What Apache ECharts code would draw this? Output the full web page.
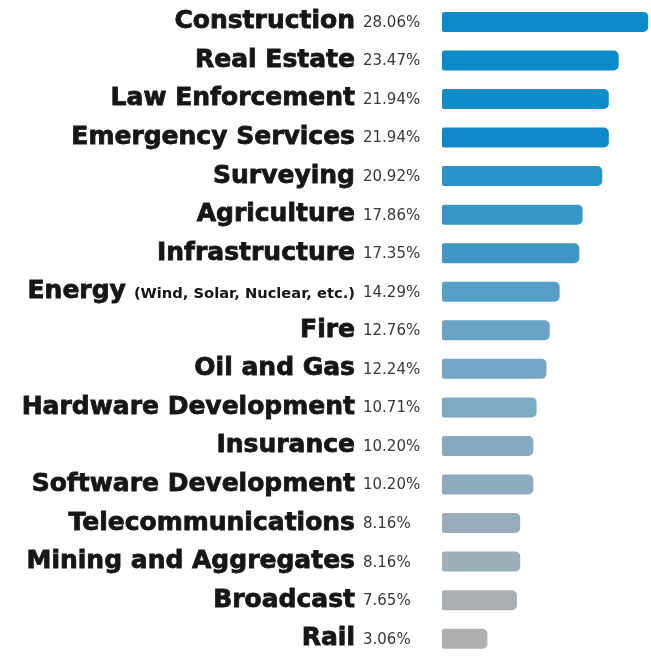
<!DOCTYPE html>
<html><head><meta charset="utf-8">
<script src="https://cdn.jsdelivr.net/npm/echarts@6/dist/echarts.min.js"></script>
<style>html,body{margin:0;padding:0;background:#fff}#c{width:651px;height:658px}</style>
</head><body><div id="c"></div>
<script>
const categories = ["Construction","Real Estate","Law Enforcement","Emergency Services","Surveying","Agriculture","Infrastructure","Energy","Fire","Oil and Gas","Hardware Development","Insurance","Software Development","Telecommunications","Mining and Aggregates","Broadcast","Rail"];
const categoryNotes = ["","","","","","","","(Wind, Solar, Nuclear, etc.)","","","","","","","","",""];
const values = [28.06,23.47,21.94,21.94,20.92,17.86,17.35,14.29,12.76,12.24,10.71,10.20,10.20,8.16,8.16,7.65,3.06];
const valueLabels = ["28.06%","23.47%","21.94%","21.94%","20.92%","17.86%","17.35%","14.29%","12.76%","12.24%","10.71%","10.20%","10.20%","8.16%","8.16%","7.65%","3.06%"];

const barColors = ["#0a8ac8","#0b8bc9","#0e8cc8","#1089c6","#2a94c8","#3897c6","#4097c4","#569fc6","#6aa3c4","#73a7c4","#7fa8c2","#86aac0","#8dabbd","#98acb9","#9eafb8","#a9aeb2","#b0b0b0"];
const X_MIN = -4, X_MAX = 28.5;
const BAR_H = 20;
const VALUE_GAP = 79;

const chart = echarts.init(document.getElementById('c'), null, {renderer:'canvas'});
chart.setOption({
  animation:false,
  grid:{left:442, top:2.6, right:-8.75, bottom:-3.4},
  xAxis:{type:'value', min:X_MIN, max:X_MAX, show:false},
  yAxis:{
    type:'category', data:categories, inverse:true,
    axisLine:{show:false}, axisTick:{show:false}, splitLine:{show:false},
    axisLabel:{
      margin:87,
      formatter:function(v, i){
        const note = categoryNotes[i];
        return '{n|' + v + '}' + (note ? '{s|' + note + '}' : '');
      },
      rich:{
        n:{fontFamily:'DejaVu Sans', fontWeight:'bold', fontSize:25, color:'#161616', textBorderColor:'#161616', textBorderWidth:0.8, lineHeight:30},
        s:{fontFamily:'DejaVu Sans', fontWeight:'bold', fontSize:14.7, color:'#161616', padding:[5,0,0,8], lineHeight:30}
      }
    }
  },
  series:[{
    type:'custom',
    data: values.map((v,i)=>[v,i]),
    encode:{x:0, y:1},
    renderItem:function(params, api){
      const idx = api.value(1);
      const start = api.coord([X_MIN, idx]);
      const end = api.coord([api.value(0), idx]);
      return {type:'group', children:[
        {type:'rect', shape:{x:start[0], y:start[1]-BAR_H/2, width:end[0]-start[0], height:BAR_H, r:[2,5,5,2]}, style:{fill:barColors[params.dataIndex]}},
        {type:'text', style:{x:start[0]-VALUE_GAP, y:start[1]+1, text:valueLabels[params.dataIndex], textAlign:'left', textVerticalAlign:'middle', fontFamily:'DejaVu Sans', fontSize:15, fill:'#383838'}}
      ]};
    }
  }]
});
</script></body></html>
